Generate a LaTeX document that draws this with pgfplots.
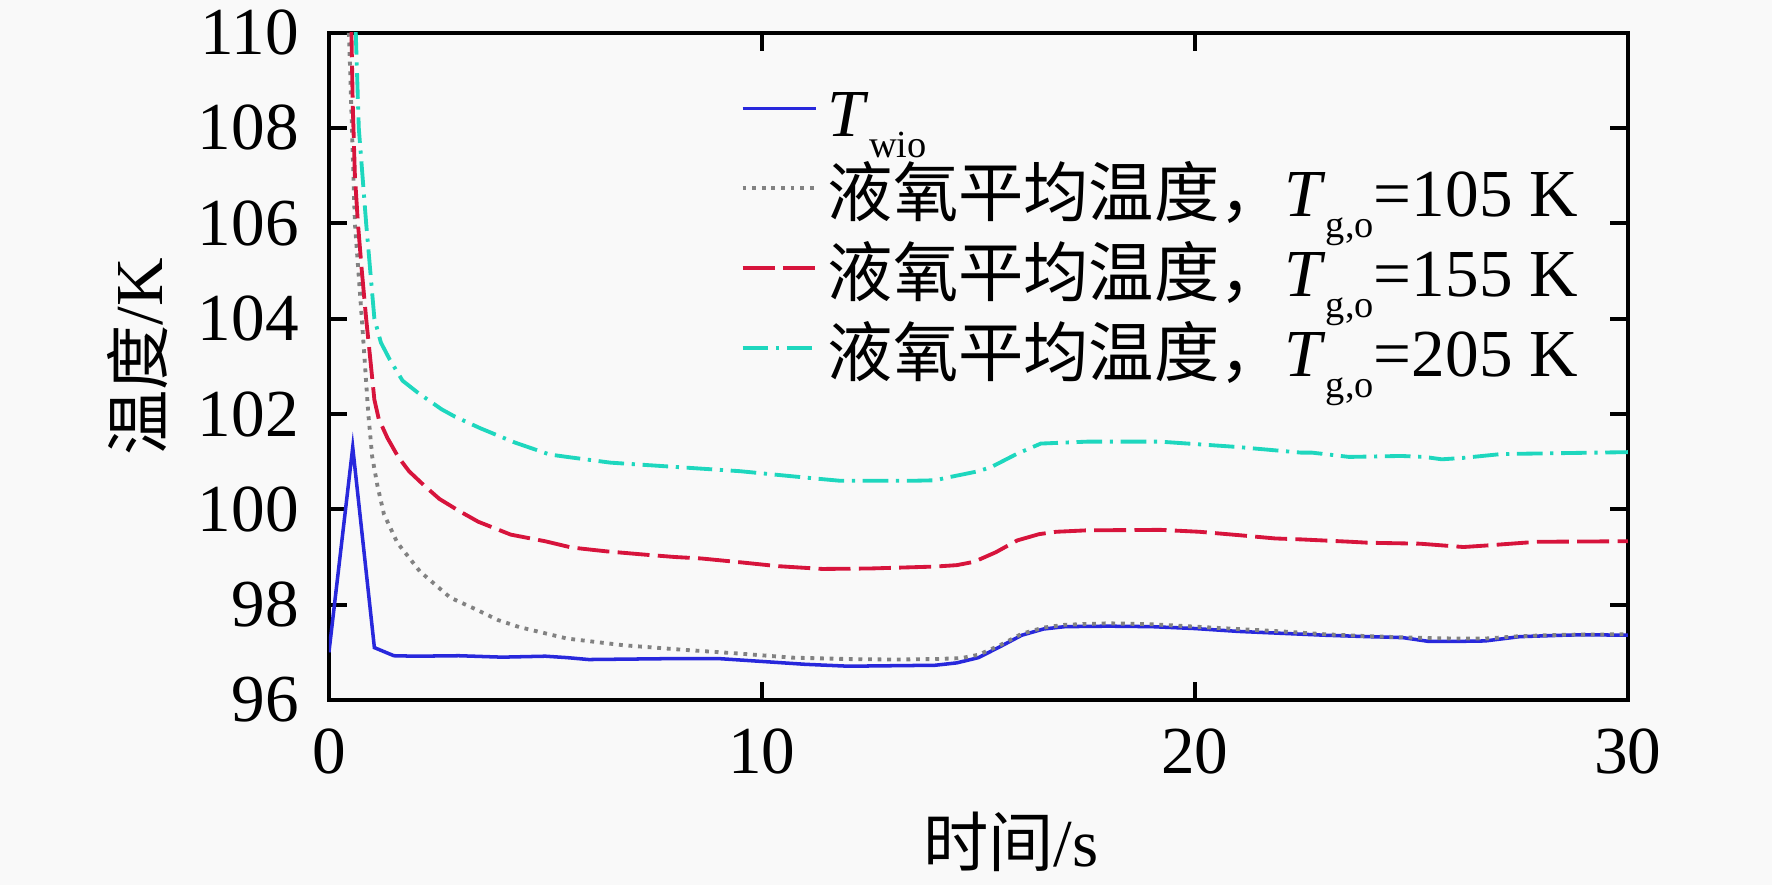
\documentclass[border=0pt]{standalone}
\usepackage{fontspec}
\setmainfont{Liberation Serif}
\newfontfamily\cjk{Noto Sans CJK SC}
\usepackage{pgfplots}
\pgfplotsset{compat=1.18}
\definecolor{cblue}{RGB}{40,40,220}
\definecolor{cred}{RGB}{215,20,60}
\definecolor{ccyan}{RGB}{30,215,190}
\definecolor{cgray}{RGB}{130,130,130}
\definecolor{bg}{RGB}{249,249,249}
\newcommand\sub[1]{\raisebox{-0.32em}{\fontsize{6}{7}\selectfont #1}}
\newcommand\cj[1]{{\cjk\fontsize{10.2}{12}\selectfont #1}}

\pgfplotstableread{
t T
0 97.0
0.55 101.3
1.05 97.1
1.5 96.93
2 96.92
3 96.93
4 96.9
5 96.92
5.5 96.89
6 96.85
7 96.86
8 96.87
9 96.87
10 96.81
11 96.75
12 96.71
13 96.72
14 96.73
14.5 96.78
15 96.89
15.5 97.12
16 97.36
16.5 97.49
17 97.54
18 97.55
19 97.54
20 97.5
21 97.44
22 97.4
23 97.36
24 97.33
24.8 97.31
25.4 97.23
26 97.23
26.7 97.24
27.5 97.33
28.5 97.36
29 97.37
30 97.36
}\twio

\pgfplotstableread{
t T
0.42 111
0.48 109.5
0.6 106
0.76 104
0.85 102.8
0.91 102
1.0 101.1
1.12 100.5
1.27 99.9
1.58 99.3
2.1 98.7
2.8 98.15
3.4 97.9
3.9 97.68
4.4 97.53
5.5 97.29
6.8 97.15
8.1 97.06
9.4 96.98
10.7 96.89
12 96.86
13 96.85
14 96.86
14.6 96.88
15 96.95
15.5 97.15
16 97.39
16.5 97.52
17 97.58
18 97.61
19 97.59
20 97.54
21 97.49
22 97.44
23 97.38
24 97.34
25 97.31
26 97.29
26.7 97.29
27.5 97.34
28.5 97.37
30 97.38
}\gA

\pgfplotstableread{
t T
0.5 111
0.55 108.5
0.6 107
0.67 106
0.76 105
0.86 104
0.95 103.2
1.05 102.3
1.15 101.9
1.35 101.5
1.6 101.1
1.85 100.8
2.2 100.5
2.55 100.22
3 99.97
3.45 99.74
4.2 99.47
5 99.33
5.6 99.2
6.4 99.12
7.3 99.05
8.0 99.0
8.6 98.97
9.5 98.89
10.35 98.81
11.4 98.75
12.5 98.76
14.0 98.8
14.5 98.83
14.9 98.9
15.4 99.1
15.9 99.35
16.4 99.48
16.8 99.53
17.5 99.56
19.2 99.57
20.1 99.53
21 99.46
21.85 99.39
22.45 99.37
23.6 99.32
24.0 99.3
25.2 99.28
26.2 99.21
26.7 99.24
27.9 99.32
29.8 99.33
30 99.33
}\gB

\pgfplotstableread{
t T
0.58 111
0.62 110
0.69 108
0.86 106
1.05 104
1.2 103.5
1.4 103.15
1.7 102.7
2.05 102.45
2.6 102.1
2.9 101.95
3.5 101.7
4.3 101.4
5.1 101.15
5.5 101.1
6.5 100.98
7.5 100.92
8.5 100.86
9.5 100.8
10.4 100.72
11.2 100.65
11.8 100.6
12.6 100.6
13.5 100.6
14.0 100.61
14.35 100.68
15.0 100.8
15.3 100.89
15.9 101.17
16.44 101.38
17.5 101.42
19.2 101.42
20.96 101.31
22.45 101.19
22.7 101.19
23.56 101.1
24.76 101.12
25.3 101.1
25.7 101.05
26.2 101.08
27.07 101.16
28.5 101.18
30 101.2
}\gC

\begin{document}
\begin{tikzpicture}
\path[use as bounding box, fill=bg] (-51.4pt,-28.9pt) rectangle (225.5pt,109.4pt);
\begin{axis}[
  scale only axis, width=203pt, height=104.3pt,
  xmin=0, xmax=30, ymin=96, ymax=110,
  xtick={0,10,20,30}, ytick={96,98,...,110},
  tick align=inside, major tick length=2.8pt,
  axis line style={line width=0.65pt},
  every tick/.style={black, line width=0.65pt},
  font=\fontsize{10.5}{12.6}\selectfont,
  tick label style={font=\fontsize{10.5}{12.6}\selectfont},
  /pgf/number format/assume math mode=true,
  yticklabel style={xshift=-1.2pt},
  xticklabel style={yshift=-1pt},
  xlabel={\cj{时间}/s},
  ylabel={\cj{温度}/K},
  every axis x label/.style={at={(axis description cs:0.525,-0.213)}, anchor=center},
  every axis y label/.style={at={(axis description cs:-0.147,0.514)}, anchor=center, rotate=90},
  legend cell align=left,
  legend style={at={(axis description cs:0.316,0.933)}, anchor=north west, draw=none, fill=none,
    inner sep=0pt, row sep=2.0pt,
    nodes={inner sep=0pt, text height=9pt, font=\fontsize{10.5}{12.6}\selectfont},
    column sep=1.6pt},
  legend image code/.code={\draw[#1] (0pt,0.6pt) -- (11.4pt,0.6pt);},
]
\addplot[cblue, line width=0.55pt] table[x=t,y=T] {\twio};
\addlegendentry{\rule[-5.6pt]{0pt}{5.6pt}\textit{T}\sub{wio}}
\addplot[cgray, line width=0.6pt, dash pattern=on 0.6pt off 0.9pt] table[x=t,y=T] {\gA};
\addlegendentry{\rule[-3pt]{0pt}{3pt}\cj{液氧平均温度，}\textit{T}\sub{g,o}=105 K}
\addplot[cred, line width=0.6pt, dash pattern=on 5pt off 1.3pt] table[x=t,y=T] {\gB};
\addlegendentry{\rule[-3pt]{0pt}{3pt}\cj{液氧平均温度，}\textit{T}\sub{g,o}=155 K}
\addplot[ccyan, line width=0.6pt, dash pattern=on 4pt off 1.2pt on 0.5pt off 1.2pt] table[x=t,y=T] {\gC};
\addlegendentry{\rule[-3pt]{0pt}{3pt}\cj{液氧平均温度，}\textit{T}\sub{g,o}=205 K}
\end{axis}
\end{tikzpicture}
\end{document}
